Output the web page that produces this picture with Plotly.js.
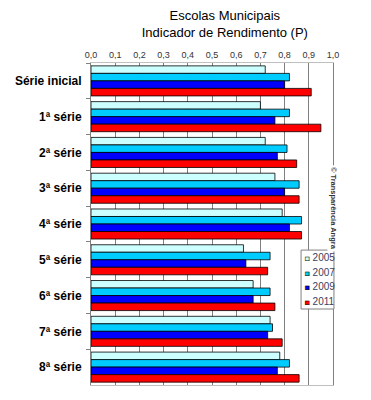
<!DOCTYPE html>
<html>
<head>
<meta charset="utf-8">
<script src="https://cdn.plot.ly/plotly-3.0.1.min.js"></script>
<style>html,body{margin:0;padding:0;background:#fff;}#chart{width:371px;height:400px;}</style>
</head>
<body>
<div id="chart"></div>
<script>
var categories = ['Série inicial', '1ª série', '2ª série', '3ª série', '4ª série', '5ª série', '6ª série', '7ª série', '8ª série'];
var years = ['2005', '2007', '2009', '2011'];
var v2005 = [0.72, 0.70, 0.72, 0.76, 0.79, 0.63, 0.67, 0.74, 0.78];
var v2007 = [0.82, 0.82, 0.81, 0.86, 0.87, 0.74, 0.74, 0.75, 0.82];
var v2009 = [0.80, 0.76, 0.77, 0.80, 0.82, 0.64, 0.67, 0.73, 0.77];
var v2011 = [0.91, 0.95, 0.85, 0.86, 0.87, 0.73, 0.76, 0.79, 0.86];
var seriesValues = [v2005, v2007, v2009, v2011];
var colors = ['#CCFFFF', '#00CCFF', '#0000FF', '#FF0000'];

var traces = years.map(function (y, i) {
  return {
    type: 'bar',
    orientation: 'h',
    name: y,
    y: categories,
    x: seriesValues[i],
    marker: { color: colors[i], line: { color: '#000000', width: 0.8 } },
    hoverinfo: 'x+name',
    showlegend: false
  };
});

// compact legend (box + one line per year), built from years/colors
var legTop = 0.419, legBottom = 0.236, legLeft = 0.868, legRight = 1.004;
var legStep = (legTop - legBottom) / years.length;
var annotations = years.map(function (y, i) {
  return {
    xref: 'paper', yref: 'paper',
    x: legLeft + 0.01, y: legTop - legStep * (i + 0.5),
    xanchor: 'left', yanchor: 'middle',
    showarrow: false,
    text: '<span style="color:' + colors[i] + ';font-size:8px;stroke:#000000;stroke-width:0.5px">■</span><span style="color:#404060"> ' + y + '</span>',
    font: { size: 10, color: '#404060' }
  };
});
annotations.push({
  text: '© Transparência Angra',
  xref: 'paper', yref: 'paper',
  x: 1, y: 0.55,
  xanchor: 'center', yanchor: 'middle',
  textangle: 90,
  showarrow: false,
  bgcolor: '#ffffff',
  font: { size: 7.5, color: '#333333', weight: 'bold' }
});

var layout = {
  width: 371,
  height: 400,
  margin: { l: 91, r: 38, t: 63, b: 15 },
  paper_bgcolor: '#ffffff',
  plot_bgcolor: '#ffffff',
  separators: ', ',
  font: { family: 'Liberation Sans, Arial, sans-serif', color: '#000000' },
  title: {
    text: 'Escolas Municipais<br>Indicador de Rendimento (P)',
    x: 0.553, xanchor: 'center', xref: 'paper',
    yref: 'container', y: 0.95, yanchor: 'top',
    font: { size: 13, color: '#000000' }
  },
  barmode: 'group',
  bargap: 0.16,
  bargroupgap: 0,
  xaxis: {
    side: 'top',
    range: [0, 1],
    dtick: 0.1,
    tick0: 0,
    tickformat: '.1f',
    tickfont: { size: 9, color: '#333333' },
    showgrid: true,
    gridcolor: '#808080',
    gridwidth: 1,
    showline: true,
    linecolor: '#c0c0c0',
    mirror: true,
    ticks: '',
    zeroline: false,
    fixedrange: true
  },
  yaxis: {
    autorange: 'reversed',
    type: 'category',
    tickfont: { size: 12, color: '#000000', family: 'Liberation Sans, Arial, sans-serif', weight: 'bold' },
    ticks: 'outside',
    tickson: 'boundaries',
    ticklen: 4,
    tickcolor: '#808080',
    showline: true,
    linecolor: '#808080',
    mirror: true,
    showgrid: false,
    ticklabelstandoff: 6,
    fixedrange: true
  },
  showlegend: false,
  shapes: [{
    type: 'rect', xref: 'paper', yref: 'paper',
    x0: legLeft, x1: legRight, y0: legBottom, y1: legTop,
    fillcolor: '#ffffff', line: { color: '#808080', width: 1 },
    layer: 'above'
  }],
  annotations: annotations
};

Plotly.newPlot('chart', traces, layout, { displayModeBar: false, staticPlot: true });
</script>
</body>
</html>
